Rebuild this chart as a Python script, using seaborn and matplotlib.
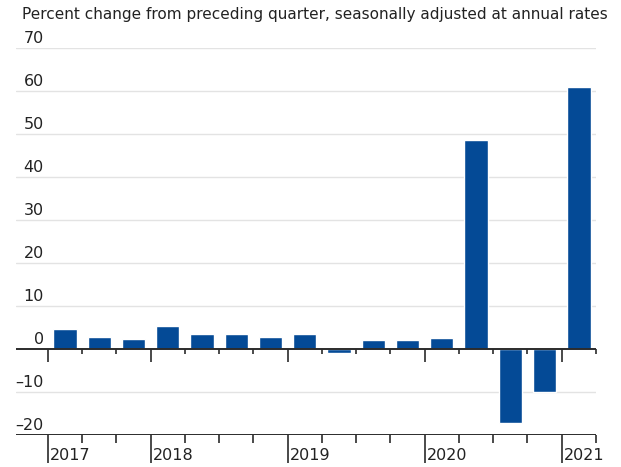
import numpy as np
import pandas as pd
import matplotlib
matplotlib.use("Agg")
import matplotlib.pyplot as plt
import matplotlib.transforms as mtransforms
import seaborn as sns

# quarterly data, 2017 Q2 .. 2021 Q1
quarters = ["2017Q2", "2017Q3", "2017Q4",
            "2018Q1", "2018Q2", "2018Q3", "2018Q4",
            "2019Q1", "2019Q2", "2019Q3", "2019Q4",
            "2020Q1", "2020Q2", "2020Q3", "2020Q4",
            "2021Q1"]
values = [4.6, 2.8, 2.4, 5.3, 3.6, 3.5, 2.9, 3.5, -1.0, 2.2, 2.0, 2.6,
          48.5, -17.3, -10.1, 60.9]
years = ["2017", "2018", "2019", "2020", "2021"]
year_start = ["2017Q2", "2018Q1", "2019Q1", "2020Q1", "2021Q1"]
y_ticks = [70, 60, 50, 40, 30, 20, 10, 0, -10, -20]
title = "Percent change from preceding quarter, seasonally adjusted at annual rates"

BLUE = "#044a96"
DARK = "#2b2b2b"
GRID = "#e3e3e3"
TXT = "#222222"

sns.set_theme(style="white")
plt.rcParams["font.family"] = ["DejaVu Sans"]

df = pd.DataFrame({"quarter": quarters, "value": values})

fig = plt.figure(figsize=(6.21, 4.67), dpi=100)
ax = fig.add_axes([16 / 621, (467 - 435) / 467, (596 - 16) / 621, (435 - 48) / 467])

sns.barplot(data=df, x="quarter", y="value", order=quarters, color=BLUE,
            saturation=1, width=0.68, ax=ax, zorder=3)

ax.set_xlim(-1.43, len(quarters) - 0.5)
ax.set_ylim(-20, 70)
for s in ax.spines.values():
    s.set_visible(False)
ax.set_xlabel("")
ax.set_ylabel("")
ax.set_xticks([])
ax.set_yticks([])

# gridlines and y labels (labels sit above the line, right aligned)
ylab_tr = mtransforms.blended_transform_factory(fig.transFigure, ax.transData)
for t in y_ticks:
    base = t in (0, -20)
    ax.axhline(t, color=DARK if base else GRID, lw=1.4 if base else 1.0,
               zorder=4 if base else 2)
    lab = ("\u2013" + str(-t)) if t < 0 else str(t)
    ax.text(44 / 621, t + 0.5, lab, transform=ylab_tr, ha="right",
            va="bottom", fontsize=11.5, color=TXT)

# quarter boundary ticks on zero line and bottom line
bounds = np.arange(-0.5, len(quarters), 1.0)
major = [quarters.index(q) - 0.5 for q in year_start]
for b in bounds:
    is_major = any(abs(b - m) < 1e-6 for m in major)
    ax.plot([b, b], [0, -3.0 if is_major else -1.2], color=DARK, lw=1.2,
            zorder=4, clip_on=False, solid_capstyle="butt")
    ax.plot([b, b], [-20, -26.5 if is_major else -21.9], color=DARK, lw=1.2,
            zorder=4, clip_on=False, solid_capstyle="butt")

for yr, m in zip(years, major):
    ax.text(m + 0.06, -26.4, yr, ha="left", va="bottom", fontsize=11.5,
            color=TXT, clip_on=False)

fig.text(22 / 621, 1 - 15 / 467, title, ha="left", va="center",
         fontsize=11.0, color=TXT)

fig.savefig("out.png", dpi=100)
